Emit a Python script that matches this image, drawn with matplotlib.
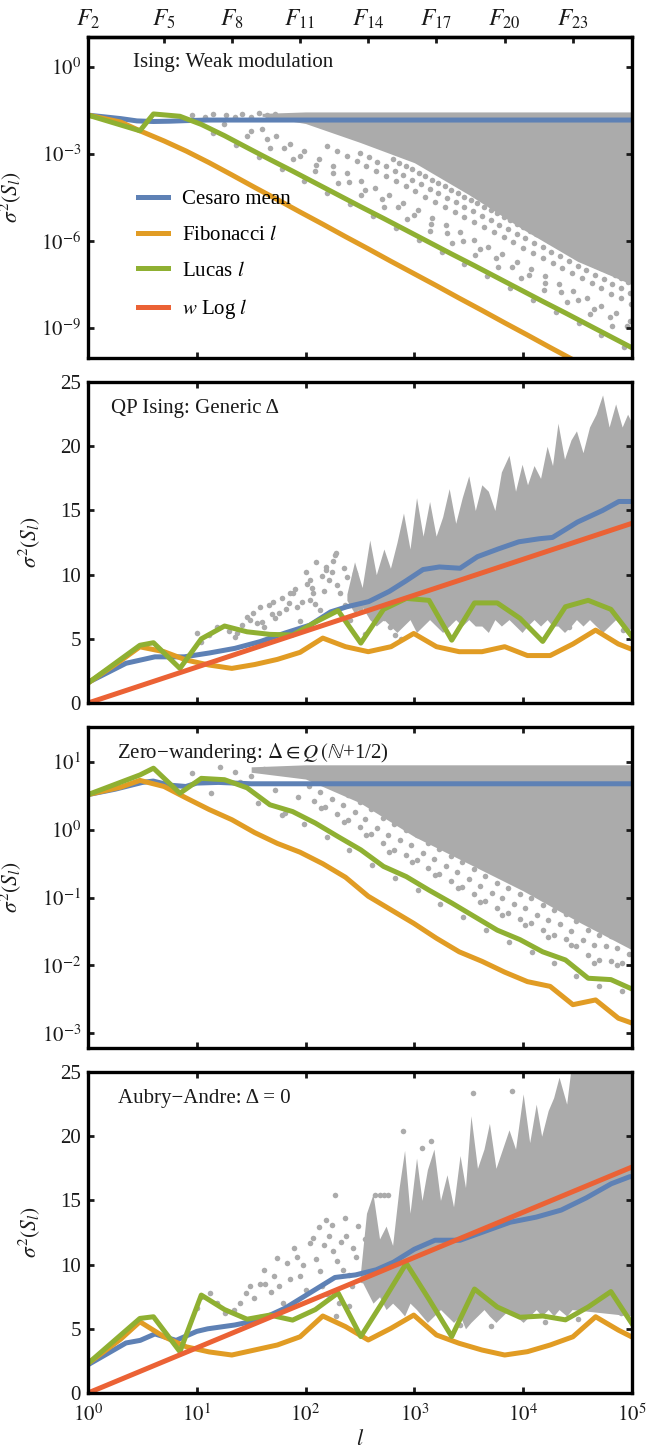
import numpy as np
import matplotlib
matplotlib.use("Agg")
import matplotlib.pyplot as plt
from matplotlib.lines import Line2D
from matplotlib.ticker import FixedLocator, FixedFormatter, NullLocator

plt.rcParams['font.family'] = ['Liberation Serif', 'DejaVu Serif']
plt.rcParams['mathtext.fontset'] = 'stix'

BLUE = '#5E81B5'
ORANGE = '#E19C24'
GREEN = '#8FB032'
RED = '#EB6235'
GRAY = '#ABABAB'
INK = '#1a1a1a'

# ------------------------------------------------------------------
# Data (x stored as log10 l where noted, log panels store log10 sigma^2)
# ------------------------------------------------------------------
fib_l = [1, 2, 3, 5, 8, 13, 21, 34, 55, 89, 144, 233, 377, 610, 987, 1597,
         2584, 4181, 6765, 10946, 17711, 28657, 46368, 75025, 121393]
lucas_l = [1, 3, 4, 7, 11, 18, 29, 47, 76, 123, 199, 322, 521, 843, 1364,
           2207, 3571, 5778, 9349, 15127, 24476, 39603, 64079, 103682]

decades = [1, 10, 100, 1e3, 1e4, 1e5]
decade_labels = [r'$10^{0}$', r'$10^{1}$', r'$10^{2}$', r'$10^{3}$', r'$10^{4}$', r'$10^{5}$']
top_ticks = [1, 5, 21, 89, 377, 1597, 6765, 28657]
top_labels = [r'$F_{2}$', r'$F_{5}$', r'$F_{8}$', r'$F_{11}$', r'$F_{14}$',
              r'$F_{17}$', r'$F_{20}$', r'$F_{23}$']

# panel 1 : Ising weak modulation (log10 values)
p1_fib = [-1.66, -1.9, -2.2, -2.55, -2.9, -3.3, -3.72, -4.15, -4.57, -5.0, -5.42,
          -5.85, -6.27, -6.7, -7.12, -7.54, -7.97, -8.39, -8.82, -9.24, -9.67,
          -10.09, -10.5, -10.9, -11.3]
p1_lucas = [-1.66, -2.2, -1.62, -1.70, -1.98, -2.37, -2.78, -3.19, -3.59, -4.0,
            -4.41, -4.82, -5.22, -5.63, -6.04, -6.45, -6.85, -7.26, -7.67, -8.08,
            -8.48, -8.89, -9.30, -9.71]
p1_ces_x = [0, 0.15, 0.3, 0.45, 0.6, 0.75, 0.9, 1.1, 1.5, 2.0, 3.0, 4.0, 5.0]
p1_ces = [-1.66, -1.72, -1.78, -1.86, -1.88, -1.87, -1.85, -1.83, -1.83, -1.83,
          -1.83, -1.83, -1.83]
p1_band_x = [1.6, 2.0, 2.5, 3.0, 3.5, 4.0, 4.5, 5.0]
p1_band_hi = [-1.6, -1.55, -1.55, -1.55, -1.55, -1.55, -1.55, -1.55]
p1_band_lo = [-1.7, -1.95, -2.6, -3.3, -4.4, -5.6, -6.7, -7.5]
p1_dot_x = ([0.96, 1.08, 1.15, 1.27, 1.35, 1.42, 1.50, 1.57, 1.65, 1.72]
            + [1.15, 1.36, 1.57, 1.78, 1.99, 2.20, 2.41, 2.62, 2.83, 3.04, 3.25,
               3.46, 3.67, 3.88, 4.09, 4.30, 4.51, 4.72, 4.93]
            + [1.25, 1.46, 1.67, 1.88, 2.09, 2.30, 2.51, 2.72, 2.93, 3.14, 3.35,
               3.56, 3.77, 3.98, 4.19, 4.40, 4.61, 4.82]
            + [1.50, 1.65, 1.80, 1.95, 2.10, 2.25, 2.40, 2.55, 2.70, 2.85, 3.00,
               3.15, 3.30, 3.45, 3.60, 3.75, 3.90, 4.05, 4.20, 4.35, 4.50, 4.65,
               4.80, 4.95]
            + [1.60, 1.73, 1.86, 1.99, 2.12, 2.25, 2.38, 2.51, 2.64, 2.77, 2.90,
               3.03, 3.16, 3.29, 3.42, 3.55, 3.68, 3.81, 3.94, 4.07, 4.20, 4.33,
               4.46, 4.59, 4.72, 4.85, 4.98]
            + [2.20, 2.29, 2.38, 2.47, 2.56, 2.65, 2.74, 2.83, 2.92, 3.01, 3.10,
               3.19, 3.28, 3.37, 3.46, 3.55, 3.64, 3.73, 3.82, 3.91, 4.00, 4.09,
               4.18, 4.27, 4.36, 4.45, 4.54, 4.63, 4.72, 4.81, 4.90, 4.99]
            + [2.50, 2.58, 2.66, 2.74, 2.82, 2.90, 2.98, 3.06, 3.14, 3.22, 3.30,
               3.38, 3.46, 3.54, 3.62, 3.70, 3.78, 3.86, 3.94, 4.02, 4.10, 4.18,
               4.26, 4.34, 4.42, 4.50, 4.58, 4.66, 4.74, 4.82, 4.90, 4.98]
            + [2.80, 2.86, 2.92, 2.98, 3.04, 3.10, 3.16, 3.22, 3.28, 3.34, 3.40,
               3.46, 3.52, 3.58, 3.64, 3.70, 3.76, 3.82, 3.88, 3.94, 4.00, 4.06,
               4.12, 4.18, 4.24, 4.30, 4.36, 4.42, 4.48, 4.54, 4.60, 4.66, 4.72,
               4.78, 4.84, 4.90, 4.96])
p1_dot_y = ([-1.65, -1.71, -1.62, -1.66, -1.72, -1.62, -1.71, -1.60, -1.66, -1.62]
            + [-2.28, -2.69, -3.10, -3.51, -3.92, -4.33, -4.74, -5.15, -5.56, -5.97,
               -6.38, -6.79, -7.20, -7.61, -8.02, -8.43, -8.84, -9.25, -9.66]
            + [-1.96, -2.37, -2.78, -3.19, -3.60, -4.01, -4.42, -4.83, -5.24, -5.65,
               -6.06, -6.47, -6.88, -7.29, -7.70, -8.11, -8.52, -8.93]
            + [-2.20, -2.49, -2.78, -3.07, -3.37, -3.66, -3.95, -4.24, -4.54, -4.83,
               -5.12, -5.41, -5.71, -6.00, -6.29, -6.58, -6.88, -7.17, -7.46, -7.75,
               -8.05, -8.34, -8.63, -8.92]
            + [-2.14, -2.39, -2.65, -2.90, -3.16, -3.41, -3.66, -3.92, -4.17, -4.43,
               -4.68, -4.93, -5.19, -5.44, -5.70, -5.95, -6.20, -6.46, -6.71, -6.97,
               -7.22, -7.47, -7.73, -7.98, -8.24, -8.49, -8.74]
            + [-2.71, -2.89, -3.06, -3.24, -3.41, -3.59, -3.77, -3.94, -4.12, -4.29,
               -4.47, -4.64, -4.82, -5.00, -5.17, -5.35, -5.52, -5.70, -5.87, -6.05,
               -6.23, -6.40, -6.58, -6.75, -6.93, -7.10, -7.28, -7.46, -7.63, -7.81,
               -7.98, -8.16]
            + [-2.95, -3.10, -3.26, -3.41, -3.57, -3.73, -3.88, -4.04, -4.19, -4.35,
               -4.51, -4.66, -4.82, -4.97, -5.13, -5.29, -5.44, -5.60, -5.75, -5.91,
               -6.07, -6.22, -6.38, -6.53, -6.69, -6.85, -7.00, -7.16, -7.31, -7.47,
               -7.63, -7.78]
            + [-3.18, -3.30, -3.41, -3.53, -3.65, -3.77, -3.88, -4.00, -4.12, -4.23,
               -4.35, -4.47, -4.59, -4.70, -4.82, -4.94, -5.05, -5.17, -5.29, -5.41,
               -5.52, -5.64, -5.76, -5.87, -5.99, -6.11, -6.23, -6.34, -6.46, -6.58,
               -6.69, -6.81, -6.93, -7.05, -7.16, -7.28, -7.40])

# panel 2 : QP Ising, generic Delta (linear values)
p2_fib = [1.56, 3.3, 4.38, 4.0, 3.35, 2.96, 2.7, 3.0, 3.4, 3.95, 5.06, 4.39, 4.0,
          4.39, 5.42, 4.39, 4.0, 4.0, 4.39, 3.7, 3.7, 4.6, 5.68, 4.6, 3.9]
p2_lucas = [1.56, 4.5, 4.7, 2.7, 5.0, 6.0, 5.55, 5.35, 5.3, 6.3, 7.2, 4.67, 7.3,
            8.15, 8.0, 4.9, 7.8, 7.8, 6.6, 4.8, 7.5, 8.0, 7.3, 5.0]
p2_ces_x = [0, 0.35, 0.615, 0.885, 1.115, 1.35, 1.58, 1.81, 2.04, 2.23, 2.38, 2.58,
            2.77, 2.92, 3.08, 3.23, 3.42, 3.58, 3.77, 3.96, 4.15, 4.27, 4.5, 4.73,
            4.88, 5.0]
p2_ces = [1.6, 3.1, 3.6, 3.6, 3.9, 4.26, 4.78, 5.45, 6.07, 7.1, 7.5, 7.9, 8.7, 9.5,
          10.4, 10.6, 10.5, 11.4, 12.0, 12.56, 12.8, 12.9, 14.1, 15.0, 15.7, 15.7]
p2_wlog = [0.0, 14.0]
p2_band_x = [2.38, 2.45, 2.52, 2.59, 2.65, 2.72, 2.78, 2.84, 2.90, 2.96, 3.02, 3.08,
             3.14, 3.20, 3.26, 3.32, 3.38, 3.44, 3.50, 3.56, 3.62, 3.68, 3.74, 3.80,
             3.87, 3.93, 3.99, 4.04, 4.10, 4.16, 4.22, 4.27, 4.32, 4.38, 4.44, 4.49,
             4.55, 4.61, 4.67, 4.73, 4.79, 4.85, 4.91, 4.96, 5.0]
p2_band_hi = [8.5, 11.0, 9.0, 12.7, 10.0, 12.0, 10.5, 12.5, 14.8, 12.0, 16.0, 13.0,
              15.7, 13.0, 14.5, 16.7, 14.0, 16.0, 17.7, 15.0, 17.0, 16.5, 15.0, 18.0,
              19.3, 16.5, 18.6, 17.0, 18.5, 17.5, 20.0, 18.5, 21.8, 19.0, 20.5, 21.2,
              19.5, 21.5, 22.5, 24.0, 21.5, 23.3, 21.5, 22.5, 21.8]
p2_band_lo = [8.0, 7.0, 7.5, 6.5, 6.0, 6.5, 6.0, 5.5, 6.0, 6.5, 5.5, 6.0, 6.5, 6.0,
              5.5, 6.0, 6.5, 6.0, 6.5, 6.0, 6.0, 5.5, 6.5, 6.0, 6.5, 6.0, 5.5, 6.0,
              6.5, 6.0, 6.5, 6.0, 6.0, 5.5, 6.0, 6.5, 6.0, 6.5, 6.0, 5.5, 6.0, 6.5,
              6.0, 5.5, 6.0]
p2_dot_x = [1.00, 1.04, 1.19, 1.35, 1.37, 1.46, 1.49, 1.55, 1.58, 1.62, 1.69, 1.70,
            1.76, 1.85, 1.86, 1.88, 1.92, 1.95, 2.01, 2.04, 2.04, 2.07, 2.10, 2.13,
            2.19, 2.19, 2.22, 2.25, 2.27, 2.28, 2.32, 2.38, 2.41, 2.47, 2.53, 2.59,
            2.65, 2.78, 3.04, 3.31, 3.65, 3.77, 4.31, 4.42, 4.69, 4.92,
            1.52, 1.60, 1.66, 1.72, 1.78, 1.82, 1.90, 1.97, 2.00, 2.06, 2.09, 2.15,
            2.17, 2.24, 2.29, 2.35, 2.36, 2.43, 2.45, 2.50, 2.56, 2.62, 2.68, 2.72,
            2.82, 2.88, 1.30, 1.42, 1.11, 2.55]
p2_dot_y = [5.42, 4.78, 5.94, 5.17, 5.43, 6.72, 6.46, 6.2, 7.5, 5.9, 6.96, 7.9,
            7.0, 7.77, 8.55, 8.54, 7.5, 6.4, 9.3, 8.0, 9.58, 8.54, 11.0, 7.24,
            10.6, 10.36, 9.6, 11.1, 11.5, 11.7, 8.54, 9.8, 6.46, 9.06, 8.28, 9.58,
            7.0, 5.94, 7.0, 6.2, 6.46, 6.7, 7.5, 5.9, 7.5, 5.7,
            7.0, 6.3, 7.6, 6.6, 8.2, 7.3, 8.9, 7.9, 10.2, 9.0, 7.7, 9.9,
            8.7, 10.2, 9.2, 10.5, 7.6, 8.8, 10.1, 7.4, 9.0, 8.3, 9.5, 6.6,
            5.3, 5.0, 5.6, 6.1, 5.3, 5.4]

# panel 3 : zero-wandering (log10 values)
p3_fib = [0.52, 0.63, 0.73, 0.64, 0.47, 0.30, 0.15, -0.04, -0.2, -0.33, -0.5, -0.70,
          -0.98, -1.18, -1.38, -1.6, -1.80, -1.94, -2.1, -2.24, -2.31, -2.58, -2.51,
          -2.78, -2.9]
p3_lucas = [0.52, 0.81, 0.91, 0.54, 0.76, 0.74, 0.62, 0.37, 0.27, 0.10, -0.10,
            -0.295, -0.54, -0.69, -0.89, -1.08, -1.28, -1.48, -1.62, -1.80, -1.92,
            -2.19, -2.21, -2.36]
p3_ces_x = [0, 0.25, 0.5, 0.6, 0.75, 0.9, 1.0, 1.2, 1.5, 2.0, 5.0]
p3_ces = [0.52, 0.6, 0.70, 0.72, 0.66, 0.64, 0.69, 0.70, 0.68, 0.68, 0.68]
p3_band_x = [1.5, 2.0, 2.5, 3.0, 3.5, 4.0, 4.5, 5.0]
p3_band_hi = [0.93, 0.96, 0.96, 0.96, 0.96, 0.96, 0.96, 0.96]
p3_band_lo = [0.85, 0.75, 0.4, -0.1, -0.5, -0.9, -1.35, -1.77]
p3_dot_x = ([0.96, 1.13, 1.21, 1.35, 1.40, 1.50, 1.62, 1.81]
            + [1.56, 1.78, 1.99, 2.20, 2.40, 2.61, 2.82, 3.03, 3.24, 3.45, 3.66,
               3.87, 4.08, 4.28, 4.49, 4.70, 4.91]
            + [1.72, 1.93, 2.14, 2.35, 2.56, 2.77, 2.98, 3.19, 3.40, 3.60, 3.81,
               4.02, 4.23, 4.44, 4.65, 4.86]
            + [2.03, 2.13, 2.24, 2.34, 2.45, 2.55, 2.66, 2.76, 2.87, 2.97, 3.08,
               3.18, 3.29, 3.39, 3.50, 3.60, 3.71, 3.81, 3.92, 4.02, 4.13, 4.23,
               4.34, 4.44, 4.55, 4.65, 4.76, 4.86, 4.97]
            + [2.60, 2.71, 2.81, 2.92, 3.02, 3.13, 3.23, 3.34, 3.44, 3.55, 3.65,
               3.76, 3.86, 3.97, 4.07, 4.18, 4.28, 4.39, 4.49, 4.60, 4.70, 4.81,
               4.91]
            + [2.08, 2.18, 2.29, 2.39, 2.50, 2.60, 2.71, 2.81, 2.92, 3.02, 3.13,
               3.23, 3.34, 3.44, 3.55, 3.65, 3.76, 3.86, 3.97, 4.07, 4.18, 4.28,
               4.39, 4.49, 4.60, 4.70, 4.81, 4.91]
            + [2.39, 2.50, 2.60, 2.71, 2.81, 2.92, 3.02, 3.13, 3.23, 3.34, 3.44,
               3.55, 3.65, 3.76, 3.86, 3.97, 4.07, 4.18, 4.28, 4.39, 4.49, 4.60,
               4.70, 4.81, 4.91])
p3_dot_y = ([0.84, 0.54, 0.93, 0.85, 0.70, 0.79, 0.90, 0.25]
            + [0.40, 0.22, 0.08, -0.11, -0.29, -0.52, -0.71, -0.89, -1.09, -1.28,
               -1.48, -1.65, -1.81, -1.96, -2.15, -2.30, -2.38]
            + [0.59, 0.49, 0.32, 0.12, -0.075, -0.32, -0.47, -0.67, -0.86, -1.06,
               -1.26, -1.40, -1.58, -1.70, -1.97, -1.99]
            + [0.65, 0.56, 0.46, 0.36, 0.26, 0.16, 0.03, -0.07, -0.15, -0.23, -0.34,
               -0.43, -0.53, -0.62, -0.73, -0.83, -0.93, -1.01, -1.09, -1.16, -1.26,
               -1.33, -1.39, -1.49, -1.63, -1.70, -1.71, -1.75, -1.83]
            + [0.46, 0.33, 0.23, 0.15, 0.07, -0.04, -0.13, -0.23, -0.32, -0.43,
               -0.53, -0.63, -0.71, -0.79, -0.86, -0.96, -1.03, -1.09, -1.19, -1.33,
               -1.40, -1.41, -1.45]
            + [0.43, 0.34, 0.24, 0.14, 0.04, -0.06, -0.19, -0.29, -0.37, -0.45,
               -0.56, -0.65, -0.75, -0.84, -0.95, -1.05, -1.15, -1.23, -1.31, -1.38,
               -1.48, -1.55, -1.61, -1.71, -1.85, -1.92, -1.93, -1.97]
            + [0.51, 0.41, 0.31, 0.18, 0.08, 0.0, -0.08, -0.19, -0.28, -0.38, -0.47,
               -0.58, -0.68, -0.78, -0.86, -0.94, -1.01, -1.11, -1.18, -1.24, -1.34,
               -1.48, -1.55, -1.56, -1.60])

# panel 4 : Aubry-Andre (linear values)
p4_fib = [2.3, 4.2, 5.55, 4.38, 3.6, 3.2, 2.96, 3.35, 3.74, 4.38, 6.0, 5.17, 4.13,
          5.04, 6.07, 4.52, 3.87, 3.35, 2.96, 3.22, 3.74, 4.38, 5.94, 4.9, 4.0]
p4_lucas = [2.3, 5.81, 5.94, 3.22, 7.63, 6.5, 5.75, 6.07, 5.68, 6.5, 7.8, 4.4, 7.2,
            10.1, 7.3, 4.4, 8.1, 6.7, 5.9, 6.0, 5.7, 6.7, 7.9, 5.2]
p4_ces_x = [0, 0.35, 0.48, 0.615, 0.81, 1.0, 1.1, 1.35, 1.58, 1.81, 2.04, 2.27,
            2.46, 2.65, 2.81, 3.0, 3.19, 3.42, 3.65, 3.88, 4.12, 4.35, 4.58, 4.81,
            4.98, 5.0]
p4_ces = [2.2, 3.9, 4.1, 4.6, 4.1, 4.8, 5.0, 5.3, 5.7, 6.6, 7.8, 9.0, 9.2, 9.6,
          10.2, 11.2, 11.9, 11.9, 12.6, 13.3, 13.7, 14.25, 15.2, 16.3, 16.85, 16.85]
p4_wlog = [0.0, 17.6]
p4_band_x = [2.50, 2.56, 2.62, 2.68, 2.74, 2.80, 2.86, 2.91, 2.96, 3.02, 3.07, 3.12,
             3.18, 3.24, 3.30, 3.36, 3.42, 3.47, 3.52, 3.58, 3.64, 3.69, 3.75, 3.81,
             3.87, 3.93, 4.00, 4.06, 4.12, 4.17, 4.23, 4.28, 4.33, 4.40, 4.45, 5.0]
p4_band_hi = [9.0, 14.0, 15.5, 12.0, 13.0, 11.5, 16.0, 18.9, 14.0, 18.3, 15.0, 17.4,
              19.0, 15.0, 17.0, 14.5, 18.5, 16.0, 21.6, 17.5, 19.0, 21.0, 17.5, 19.0,
              20.5, 19.0, 23.3, 19.5, 22.5, 20.0, 22.0, 23.0, 24.6, 22.5, 26.0, 26.0]
p4_band_lo = [9.0, 8.0, 7.0, 7.5, 6.5, 7.0, 6.5, 6.0, 7.0, 6.5, 6.0, 5.5, 6.0, 6.5,
              6.0, 5.5, 6.0, 5.0, 5.5, 6.0, 6.5, 6.0, 5.5, 6.0, 6.5, 6.0, 5.5, 6.0,
              6.5, 6.0, 6.5, 6.0, 6.5, 6.0, 6.5, 6.0]
p4_dot_x = [1.00, 1.04, 1.19, 1.34, 1.40, 1.49, 1.58, 1.58, 1.63, 1.71, 1.76, 1.79,
            1.83, 1.92, 1.95, 2.04, 2.10, 2.12, 2.15, 2.19, 2.22, 2.25, 2.27, 2.31,
            2.34, 2.37, 2.43, 2.46, 2.64, 2.68, 2.72, 2.76, 2.90, 3.07, 3.15, 3.42,
            3.54, 3.70, 3.90, 4.20, 4.50, 4.90,
            1.45, 1.53, 1.62, 1.68, 1.74, 1.86, 1.89, 1.98, 2.00, 2.07, 2.13, 2.17,
            2.20, 2.24, 2.29, 2.33, 2.36, 2.40, 2.44, 2.48, 2.52, 2.40, 2.28, 1.26,
            1.12, 2.55, 2.60]
p4_dot_y = [6.6, 7.5, 7.0, 6.5, 7.0, 8.3, 8.5, 5.95, 8.5, 9.1, 8.3, 7.0, 10.1, 10.6,
            9.1, 11.7, 10.4, 12.95, 8.3, 13.5, 12.2, 11.1, 15.4, 7.0, 9.6, 12.2, 8.3,
            10.6, 15.4, 15.4, 15.4, 15.4, 20.4, 19.05, 19.6, 5.3, 23.4, 5.2, 23.5,
            5.5, 5.8, 6.2,
            7.8, 7.4, 9.6, 7.9, 10.5, 8.9, 11.3, 10.0, 8.0, 12.1, 9.5, 11.5,
            7.7, 13.1, 10.3, 11.8, 13.6, 9.2, 11.3, 13.0, 8.8, 6.8, 6.0, 6.2,
            7.8, 12.0, 10.5]

# ------------------------------------------------------------------
# Layout
# ------------------------------------------------------------------
fig = plt.figure(figsize=(6.58, 14.55), dpi=100)
LEFT, WIDTH, HEIGHT = 0.1337, 0.8267, 0.2206
bottoms = [0.7540, 0.5168, 0.2797, 0.0426]
axes = [fig.add_axes([LEFT, b, WIDTH, HEIGHT]) for b in bottoms]

TICK_FS = 15
TEXT_FS = 15
LW = 3.6


def lx(a):
    return 10.0 ** np.asarray(a, dtype=float)


def base_style(ax):
    for sp in ax.spines.values():
        sp.set_linewidth(2.4)
        sp.set_zorder(10)
    ax.set_xscale('log')
    ax.set_xlim(1, 1e5)
    ax.xaxis.set_major_locator(FixedLocator(decades))
    ax.xaxis.set_minor_locator(NullLocator())
    ax.tick_params(which='major', direction='in', length=4.5, width=2,
                   top=True, right=True, labelsize=TICK_FS, pad=5, colors=INK)
    ax.set_xticklabels([])
    ax.set_ylabel(r'$\sigma^2(S_l)$', fontsize=15.5, color=INK)


def draw_lines(ax, log_y, ces_x, ces, fib, luc, wlog=None):
    conv = lx if log_y else np.asarray
    ax.plot(lx(ces_x), conv(ces), color=BLUE, lw=LW, zorder=3)
    ax.plot(fib_l, conv(fib), color=ORANGE, lw=LW, zorder=4)
    ax.plot(lucas_l, conv(luc), color=GREEN, lw=LW, zorder=5)
    if wlog is not None:
        ax.plot([1, 1e5], wlog, color=RED, lw=LW, zorder=6)


def draw_cloud(ax, log_y, bx, lo, hi, dx, dy):
    conv = lx if log_y else np.asarray
    ax.fill_between(lx(bx), conv(lo), conv(hi), color=GRAY, lw=0, zorder=1)
    ax.scatter(lx(dx), conv(dy), s=16, color=GRAY, linewidths=0, zorder=1)


# panel 1
ax1 = axes[0]
base_style(ax1)
ax1.tick_params(top=False)
ax1.set_yscale('log')
ax1.set_ylim(10 ** -10.03, 10 ** 1.034)
ax1.yaxis.set_major_locator(FixedLocator([1, 1e-3, 1e-6, 1e-9]))
ax1.yaxis.set_major_formatter(FixedFormatter([r'$10^{0}$', r'$10^{-3}$', r'$10^{-6}$', r'$10^{-9}$']))
ax1.yaxis.set_minor_locator(NullLocator())
draw_cloud(ax1, True, p1_band_x, p1_band_lo, p1_band_hi, p1_dot_x, p1_dot_y)
draw_lines(ax1, True, p1_ces_x, p1_ces, p1_fib, p1_lucas)
ax1.text(0.083, 0.919, 'Ising: Weak modulation', transform=ax1.transAxes,
         fontsize=TEXT_FS, va='center', ha='left', color=INK)
sec = ax1.secondary_xaxis('top')
sec.xaxis.set_major_locator(FixedLocator(top_ticks))
sec.xaxis.set_major_formatter(FixedFormatter(top_labels))
sec.xaxis.set_minor_locator(NullLocator())
sec.tick_params(direction='in', length=4.5, width=2, labelsize=17, pad=4, colors=INK)
sec.spines['top'].set_linewidth(2.4)
handles = [Line2D([], [], color=c, lw=LW) for c in (BLUE, ORANGE, GREEN, RED)]
labels = ['Cesaro mean', r'Fibonacci $l$', r'Lucas $l$', r'$w$ Log $l$']
ax1.legend(handles, labels, loc='upper left', bbox_to_anchor=(0.092, 0.525),
           frameon=False, fontsize=TEXT_FS, handlelength=1.45, handletextpad=0.65,
           labelspacing=0.78, borderpad=0, borderaxespad=0)
ax1.yaxis.set_label_coords(-0.119, 0.5)

# panel 2
ax2 = axes[1]
base_style(ax2)
ax2.set_ylim(0, 25)
ax2.yaxis.set_major_locator(FixedLocator([0, 5, 10, 15, 20, 25]))
draw_cloud(ax2, False, p2_band_x, p2_band_lo, p2_band_hi, p2_dot_x, p2_dot_y)
draw_lines(ax2, False, p2_ces_x, p2_ces, p2_fib, p2_lucas, p2_wlog)
ax2.text(0.042, 0.919, 'QP Ising: Generic \u0394', transform=ax2.transAxes,
         fontsize=TEXT_FS, va='center', ha='left', color=INK)
ax2.yaxis.set_label_coords(-0.085, 0.5)

# panel 3
ax3 = axes[2]
base_style(ax3)
ax3.set_yscale('log')
ax3.set_ylim(10 ** -3.22, 10 ** 1.517)
ax3.yaxis.set_major_locator(FixedLocator([10, 1, 0.1, 0.01, 0.001]))
ax3.yaxis.set_major_formatter(FixedFormatter([r'$10^{1}$', r'$10^{0}$', r'$10^{-1}$',
                                              r'$10^{-2}$', r'$10^{-3}$']))
ax3.yaxis.set_minor_locator(NullLocator())
draw_cloud(ax3, True, p3_band_x, p3_band_lo, p3_band_hi, p3_dot_x, p3_dot_y)
draw_lines(ax3, True, p3_ces_x, p3_ces, p3_fib, p3_lucas)
ax3.text(0.053, 0.919, 'Zero\u2212wandering: $\\Delta \\in Q\\,(\\mathbb{N}$+1/2)',
         transform=ax3.transAxes, fontsize=TEXT_FS, va='center', ha='left', color=INK)
ax3.yaxis.set_label_coords(-0.119, 0.5)

# panel 4
ax4 = axes[3]
base_style(ax4)
ax4.set_ylim(0, 25)
ax4.yaxis.set_major_locator(FixedLocator([0, 5, 10, 15, 20, 25]))
draw_cloud(ax4, False, p4_band_x, p4_band_lo, p4_band_hi, p4_dot_x, p4_dot_y)
draw_lines(ax4, False, p4_ces_x, p4_ces, p4_fib, p4_lucas, p4_wlog)
ax4.text(0.055, 0.919, 'Aubry\u2212Andre: \u0394 = 0', transform=ax4.transAxes,
         fontsize=TEXT_FS, va='center', ha='left', color=INK)
ax4.xaxis.set_major_formatter(FixedFormatter(decade_labels))
ax4.tick_params(axis='x', pad=8)
ax4.set_xlabel(r'$l$', fontsize=16, color=INK)
ax4.xaxis.set_label_coords(0.5, -0.115)
ax4.yaxis.set_label_coords(-0.085, 0.5)

fig.savefig('out.png', dpi=100)
